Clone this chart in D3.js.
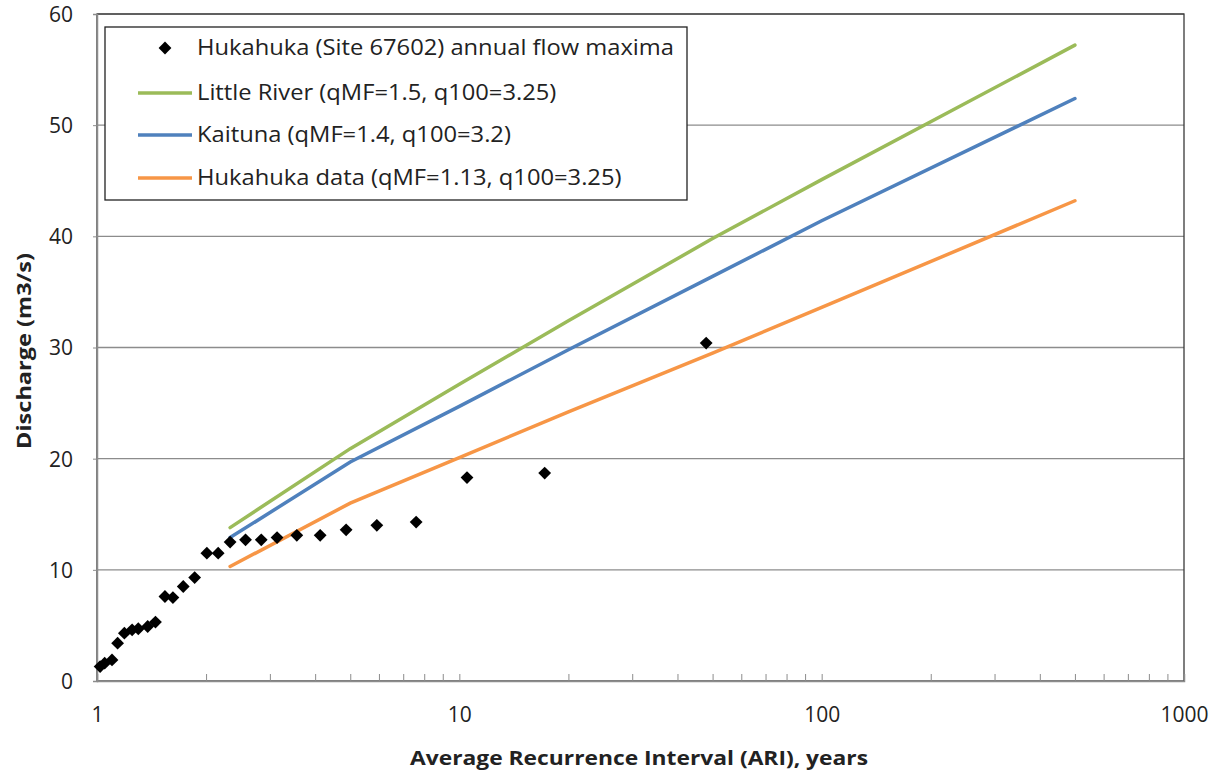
<!DOCTYPE html>
<html lang="en">
<head>
    <meta charset="UTF-8">
    <title>Hukahuka flood frequency</title>
    <script src="https://d3js.org/d3.v7.min.js"></script>
</head>
<style>
    html,body {
        margin: 0;
        padding: 0;
        background: #fff;
    }
    text {
        font-family: "Open Sans", sans-serif;
    }
</style>
<body>
    <div id="svg"></div>
</body>
<script>
    // annual flow maxima (ARI in years, discharge in m3/s)
    const obsARI = [1.02, 1.05, 1.10, 1.14, 1.19, 1.25, 1.30, 1.38, 1.45, 1.54, 1.62, 1.73, 1.86,
                    2.01, 2.16, 2.33, 2.57, 2.84, 3.14, 3.56, 4.13, 4.87, 5.92, 7.6, 10.5, 17.2, 48];
    const obsQ   = [1.3, 1.6, 1.9, 3.4, 4.3, 4.6, 4.7, 4.9, 5.3, 7.6, 7.5, 8.5, 9.3,
                    11.5, 11.5, 12.5, 12.7, 12.7, 12.9, 13.1, 13.1, 13.6, 14.0, 14.3, 18.3, 18.7, 30.4];

    // fitted curves
    const curveARI = [2.33, 5, 10, 20, 50, 100, 500];
    const littleRiver = [13.8, 20.9, 26.7, 32.4, 39.8, 45.1, 57.2];
    const kaituna     = [12.9, 19.7, 24.7, 29.8, 36.4, 41.4, 52.4];
    const hukaData    = [10.3, 16.0, 20.1, 24.2, 29.5, 33.6, 43.2];

    const seriesNames = [
        'Hukahuka (Site 67602) annual flow maxima',
        'Little River (qMF=1.5, q100=3.25)',
        'Kaituna (qMF=1.4, q100=3.2)',
        'Hukahuka data (qMF=1.13, q100=3.25)'
    ];
    const lineColors = ['#9bbb59', '#4f81bd', '#f79646'];

    const yTicks = [0, 10, 20, 30, 40, 50, 60];
    const xTicks = [1, 10, 100, 1000];

    const width = 1220;
    const height = 773;
    const padding = {top: 14, right: 36, bottom: 92, left: 97};
    const plotW = width - padding.left - padding.right;
    const plotH = height - padding.top - padding.bottom;

    const xScale = d3.scaleLog().domain([1, 1000]).range([0, plotW]);
    const yScale = d3.scaleLinear().domain([0, 60]).range([plotH, 0]);

    const svg = d3.select('#svg').append('svg')
        .attr('width', width)
        .attr('height', height);

    const g = svg.append('g').attr('transform', `translate(${padding.left}, ${padding.top})`);

    // horizontal gridlines
    g.append('g').selectAll('line').data(yTicks.slice(1)).enter().append('line')
        .attr('x1', 0).attr('x2', plotW)
        .attr('y1', d => yScale(d)).attr('y2', d => yScale(d))
        .attr('stroke', '#8c8c8c').attr('stroke-width', 1.3);

    // plot border (top / right)
    g.append('rect')
        .attr('x', 0).attr('y', 0).attr('width', plotW).attr('height', plotH)
        .attr('fill', 'none').attr('stroke', '#3a3a3a').attr('stroke-width', 1.3);

    // y axis
    const yAxis = d3.axisLeft(yScale).tickValues(yTicks).tickSize(4).tickPadding(20);
    const gY = g.append('g').call(yAxis);
    gY.select('.domain').attr('stroke', '#8c8c8c').attr('stroke-width', 1.5);
    gY.selectAll('.tick line').attr('stroke', '#8c8c8c');
    gY.selectAll('.tick text').attr('font-size', 21).attr('fill', '#222').attr('dy', '0.35em');

    // x axis: major labels, ticks pointing up into plot
    const minorTicks = [];
    for (let dec = 1; dec < 1000; dec *= 10) {
        for (let k = 1; k < 10; k++) minorTicks.push(dec * k);
    }
    minorTicks.push(1000);
    const xAxis = d3.axisBottom(xScale).tickValues(minorTicks).tickSize(-7)
        .tickFormat(d => xTicks.includes(d) ? d3.format('d')(d) : '');
    const gX = g.append('g').attr('transform', `translate(0, ${plotH})`).call(xAxis);
    gX.select('.domain').attr('stroke', '#8c8c8c').attr('stroke-width', 1.5);
    gX.selectAll('.tick line').attr('stroke', '#8c8c8c');
    gX.selectAll('.tick text').attr('font-size', 21).attr('fill', '#222').attr('y', 26);

    // axis titles (stretched a little, like the original)
    svg.append('text')
        .attr('x', 639).attr('y', 765)
        .attr('text-anchor', 'middle').attr('font-size', 20).attr('font-weight', 'bold')
        .attr('fill', '#222')
        .attr('textLength', 458).attr('lengthAdjust', 'spacingAndGlyphs')
        .text('Average Recurrence Interval (ARI), years');
    svg.append('text')
        .attr('transform', 'translate(31, 351) rotate(-90)')
        .attr('text-anchor', 'middle').attr('font-size', 20).attr('font-weight', 'bold')
        .attr('fill', '#222')
        .attr('textLength', 196).attr('lengthAdjust', 'spacingAndGlyphs')
        .text('Discharge (m3/s)');

    // curves
    const line = d3.line().x(d => xScale(d[0])).y(d => yScale(d[1]));
    [littleRiver, kaituna, hukaData].forEach((vals, i) => {
        g.append('path')
            .datum(curveARI.map((a, j) => [a, vals[j]]))
            .attr('d', line)
            .attr('fill', 'none')
            .attr('stroke', lineColors[i])
            .attr('stroke-width', 3.5)
            .attr('stroke-linecap', 'round');
    });

    // observed points (diamonds)
    const diamond = d3.symbol().type(d3.symbolSquare).size(82);
    g.append('g').selectAll('path').data(obsARI).enter().append('path')
        .attr('d', diamond)
        .attr('transform', (d, i) => `translate(${xScale(d)}, ${yScale(obsQ[i])}) rotate(45)`)
        .attr('fill', '#000');

    // legend
    const lg = svg.append('g').attr('transform', 'translate(105, 27)');
    lg.append('rect').attr('width', 582).attr('height', 173)
        .attr('fill', '#fff').attr('stroke', '#222').attr('stroke-width', 1.3);
    const rowY = [21, 66, 108, 151];
    lg.append('path').attr('d', diamond)
        .attr('transform', `translate(60, ${rowY[0]}) rotate(45)`).attr('fill', '#000');
    lineColors.forEach((c, i) => {
        lg.append('line')
            .attr('x1', 33).attr('x2', 87)
            .attr('y1', rowY[i + 1]).attr('y2', rowY[i + 1])
            .attr('stroke', c).attr('stroke-width', 3.5);
    });
    lg.selectAll('text.lab').data(seriesNames).enter().append('text')
        .attr('class', 'lab')
        .attr('transform', (d, i) => `translate(92, ${rowY[i]}) scale(1.13, 1)`)
        .attr('dy', '0.35em')
        .attr('font-size', 21).attr('fill', '#222')
        .text(d => d);
</script>
</html>
